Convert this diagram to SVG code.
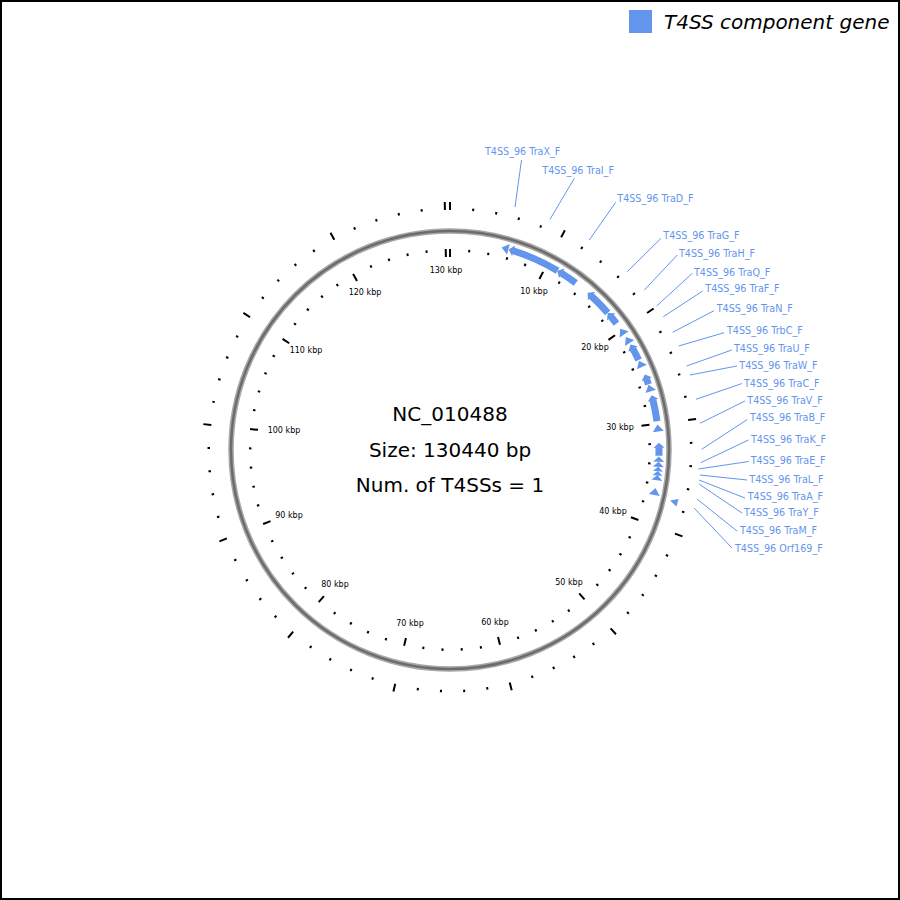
<svg xmlns="http://www.w3.org/2000/svg" xmlns:xlink="http://www.w3.org/1999/xlink" width="900" height="900" viewBox="0 0 900 900">
<style>
.tk{stroke:#000;stroke-width:2;fill:none}
.tl{font-family:"DejaVu Sans",sans-serif;font-size:8px;fill:#000;text-anchor:middle}
.gl{font-family:"DejaVu Sans",sans-serif;font-size:9.6px;fill:#6495ED}
.ld{stroke:#6495ED;stroke-width:1;fill:none}
.g{fill:#6495ED}
.b{fill:none;stroke:#6495ED;stroke-width:7}
.ct{font-family:"DejaVu Sans",sans-serif;font-size:20px;fill:#000;text-anchor:middle}
</style>
<defs>
<g id="M"><line class="tk" x1="450" y1="249" x2="450" y2="257"/><line class="tk" x1="450" y1="210" x2="450" y2="202"/></g>
<g id="N"><line class="tk" x1="450" y1="249" x2="450" y2="251.5"/><line class="tk" x1="450" y1="210" x2="450" y2="207.5"/></g>
<polygon id="h5" points="450,241 455.2,235.5 455.2,246.5"/>
<polygon id="h7" points="450,241 457,235.5 457,246.5"/>
<polygon id="h4" points="450,241 454.5,236 454.5,246"/>
</defs>
<rect x="1" y="1" width="898" height="898" fill="#fff" stroke="#000" stroke-width="2"/>
<g id="legend">
<rect x="629" y="10" width="23" height="23" fill="#6495ED"/>
<text x="664" y="29" style="font-family:'DejaVu Sans',sans-serif;font-size:20px;font-style:italic;fill:#000">T4SS component gene</text>
</g>
<g id="ring">
<circle cx="450" cy="450" r="219" fill="none" stroke="#a8a8a8" stroke-width="5.5"/>
<circle cx="450" cy="450" r="219" fill="none" stroke="#6c6c6c" stroke-width="2.5"/>
</g>
<g id="ticks">
<use href="#M"/>
<use href="#N" transform="rotate(5.520 450 450)"/>
<use href="#N" transform="rotate(11.040 450 450)"/>
<use href="#N" transform="rotate(16.559 450 450)"/>
<use href="#N" transform="rotate(22.079 450 450)"/>
<use href="#M" transform="rotate(27.599 450 450)"/>
<use href="#N" transform="rotate(33.119 450 450)"/>
<use href="#N" transform="rotate(38.638 450 450)"/>
<use href="#N" transform="rotate(44.158 450 450)"/>
<use href="#N" transform="rotate(49.678 450 450)"/>
<use href="#M" transform="rotate(55.198 450 450)"/>
<use href="#N" transform="rotate(60.718 450 450)"/>
<use href="#N" transform="rotate(66.238 450 450)"/>
<use href="#N" transform="rotate(71.757 450 450)"/>
<use href="#N" transform="rotate(77.277 450 450)"/>
<use href="#M" transform="rotate(82.797 450 450)"/>
<use href="#N" transform="rotate(88.316 450 450)"/>
<use href="#N" transform="rotate(93.836 450 450)"/>
<use href="#N" transform="rotate(99.356 450 450)"/>
<use href="#N" transform="rotate(104.876 450 450)"/>
<use href="#M" transform="rotate(110.396 450 450)"/>
<use href="#N" transform="rotate(115.915 450 450)"/>
<use href="#N" transform="rotate(121.435 450 450)"/>
<use href="#N" transform="rotate(126.955 450 450)"/>
<use href="#N" transform="rotate(132.475 450 450)"/>
<use href="#M" transform="rotate(137.994 450 450)"/>
<use href="#N" transform="rotate(143.514 450 450)"/>
<use href="#N" transform="rotate(149.034 450 450)"/>
<use href="#N" transform="rotate(154.554 450 450)"/>
<use href="#N" transform="rotate(160.074 450 450)"/>
<use href="#M" transform="rotate(165.593 450 450)"/>
<use href="#N" transform="rotate(171.113 450 450)"/>
<use href="#N" transform="rotate(176.633 450 450)"/>
<use href="#N" transform="rotate(182.153 450 450)"/>
<use href="#N" transform="rotate(187.672 450 450)"/>
<use href="#M" transform="rotate(193.192 450 450)"/>
<use href="#N" transform="rotate(198.712 450 450)"/>
<use href="#N" transform="rotate(204.232 450 450)"/>
<use href="#N" transform="rotate(209.752 450 450)"/>
<use href="#N" transform="rotate(215.271 450 450)"/>
<use href="#M" transform="rotate(220.791 450 450)"/>
<use href="#N" transform="rotate(226.311 450 450)"/>
<use href="#N" transform="rotate(231.831 450 450)"/>
<use href="#N" transform="rotate(237.350 450 450)"/>
<use href="#N" transform="rotate(242.870 450 450)"/>
<use href="#M" transform="rotate(248.390 450 450)"/>
<use href="#N" transform="rotate(253.910 450 450)"/>
<use href="#N" transform="rotate(259.429 450 450)"/>
<use href="#N" transform="rotate(264.949 450 450)"/>
<use href="#N" transform="rotate(270.469 450 450)"/>
<use href="#M" transform="rotate(275.989 450 450)"/>
<use href="#N" transform="rotate(281.509 450 450)"/>
<use href="#N" transform="rotate(287.028 450 450)"/>
<use href="#N" transform="rotate(292.548 450 450)"/>
<use href="#N" transform="rotate(298.068 450 450)"/>
<use href="#M" transform="rotate(303.588 450 450)"/>
<use href="#N" transform="rotate(309.107 450 450)"/>
<use href="#N" transform="rotate(314.627 450 450)"/>
<use href="#N" transform="rotate(320.147 450 450)"/>
<use href="#N" transform="rotate(325.667 450 450)"/>
<use href="#M" transform="rotate(331.187 450 450)"/>
<use href="#N" transform="rotate(336.706 450 450)"/>
<use href="#N" transform="rotate(342.226 450 450)"/>
<use href="#N" transform="rotate(347.746 450 450)"/>
<use href="#N" transform="rotate(353.266 450 450)"/>
<use href="#M" transform="rotate(358.785 450 450)"/>
</g>
<g id="tick-labels">
<text class="tl" x="534" y="294">10 kbp</text>
<text class="tl" x="595" y="350">20 kbp</text>
<text class="tl" x="620" y="430">30 kbp</text>
<text class="tl" x="613" y="514">40 kbp</text>
<text class="tl" x="569" y="585">50 kbp</text>
<text class="tl" x="495" y="625">60 kbp</text>
<text class="tl" x="410" y="626">70 kbp</text>
<text class="tl" x="335" y="587">80 kbp</text>
<text class="tl" x="289" y="518">90 kbp</text>
<text class="tl" x="284" y="433">100 kbp</text>
<text class="tl" x="306" y="353">110 kbp</text>
<text class="tl" x="365" y="295">120 kbp</text>
<text class="tl" x="446" y="273">130 kbp</text>
</g>
<g id="center-text">
<text class="ct" x="450" y="421">NC_010488</text>
<text class="ct" x="450" y="457">Size: 130440 bp</text>
<text class="ct" x="450" y="492">Num. of T4SSs = 1</text>
</g>
<g id="connectors">
<line class="ld" x1="515" y1="207" x2="521.5" y2="160"/>
<line class="ld" x1="550" y1="219.3" x2="574.3" y2="178.3"/>
<line class="ld" x1="589.3" y1="240" x2="615.7" y2="202.3"/>
<line class="ld" x1="627.3" y1="271.7" x2="661" y2="238.3"/>
<line class="ld" x1="644.3" y1="290" x2="677.3" y2="255"/>
<line class="ld" x1="656.7" y1="306" x2="692.3" y2="273.3"/>
<line class="ld" x1="663.3" y1="316.7" x2="702.7" y2="291"/>
<line class="ld" x1="672.7" y1="332.3" x2="714" y2="310.7"/>
<line class="ld" x1="678.7" y1="346" x2="724" y2="332.7"/>
<line class="ld" x1="686.7" y1="366" x2="731.7" y2="350"/>
<line class="ld" x1="690" y1="375" x2="737" y2="366"/>
<line class="ld" x1="696" y1="399.3" x2="742" y2="383.5"/>
<line class="ld" x1="700" y1="423.3" x2="745" y2="401"/>
<line class="ld" x1="701.7" y1="449.3" x2="747.3" y2="419.5"/>
<line class="ld" x1="700.7" y1="462.7" x2="748.5" y2="440"/>
<line class="ld" x1="698.3" y1="469" x2="748.7" y2="461.5"/>
<line class="ld" x1="700" y1="475" x2="747" y2="480"/>
<line class="ld" x1="699" y1="480" x2="745" y2="498"/>
<line class="ld" x1="699" y1="484" x2="742" y2="513"/>
<line class="ld" x1="697" y1="499" x2="737" y2="531"/>
<line class="ld" x1="694" y1="508" x2="732" y2="548"/>
</g>
<g id="TraX"><use class="g" href="#h7" transform="rotate(14.3 450 450)"/><text class="gl" x="485" y="155.2">T4SS_96 TraX_F</text></g>
<g id="TraI"><use class="g" href="#h5" transform="rotate(16.3 450 450)"/><circle class="b" cx="450" cy="450" r="209" stroke-dasharray="48.9 2000" transform="rotate(-72.4 450 450)"/><text class="gl" x="542.3" y="174.2">T4SS_96 TraI_F</text></g>
<g id="TraD"><circle class="b" cx="450" cy="450" r="209" stroke-dasharray="17.5 2000" transform="rotate(-57.8 450 450)"/><use class="g" href="#h5" transform="rotate(30.9 450 450)"/><text class="gl" x="617.3" y="202.2">T4SS_96 TraD_F</text></g>
<g id="TraG"><use class="g" href="#h5" transform="rotate(41.2 450 450)"/><circle class="b" cx="450" cy="450" r="209" stroke-dasharray="23.7 2000" transform="rotate(-47.5 450 450)"/><text class="gl" x="663.3" y="239.2">T4SS_96 TraG_F</text></g>
<g id="TraH"><use class="g" href="#h5" transform="rotate(49 450 450)"/><circle class="b" cx="450" cy="450" r="209" stroke-dasharray="9.1 2000" transform="rotate(-39.7 450 450)"/><text class="gl" x="679" y="256.5">T4SS_96 TraH_F</text></g>
<g id="TraQ"><use class="g" href="#h7" transform="rotate(54.5 450 450)"/><text class="gl" x="694" y="275.5">T4SS_96 TraQ_F</text></g>
<g id="TraF"><use class="g" href="#h7" transform="rotate(57.3 450 450)"/><text class="gl" x="705.3" y="292.2">T4SS_96 TraF_F</text></g>
<g id="TraN"><use class="g" href="#h5" transform="rotate(59.7 450 450)"/><circle class="b" cx="450" cy="450" r="209" stroke-dasharray="12.8 2000" transform="rotate(-29 450 450)"/><text class="gl" x="716.7" y="312.2">T4SS_96 TraN_F</text></g>
<g id="TrbC"><use class="g" href="#h7" transform="rotate(64.7 450 450)"/><text class="gl" x="727" y="333.8">T4SS_96 TrbC_F</text></g>
<g id="TraU"><use class="g" href="#h5" transform="rotate(68.8 450 450)"/><circle class="b" cx="450" cy="450" r="209" stroke-dasharray="5.8 2000" transform="rotate(-19.9 450 450)"/><text class="gl" x="734" y="352.2">T4SS_96 TraU_F</text></g>
<g id="TraW"><use class="g" href="#h7" transform="rotate(71.8 450 450)"/><text class="gl" x="739.3" y="368.8">T4SS_96 TraW_F</text></g>
<g id="TraC"><use class="g" href="#h5" transform="rotate(74.8 450 450)"/><circle class="b" cx="450" cy="450" r="209" stroke-dasharray="21.9 2000" transform="rotate(-13.9 450 450)"/><text class="gl" x="744" y="386.5">T4SS_96 TraC_F</text></g>
<g id="TraV"><use class="g" href="#h7" transform="rotate(83 450 450)"/><text class="gl" x="747.3" y="403.5">T4SS_96 TraV_F</text></g>
<g id="TraB"><use class="g" href="#h5" transform="rotate(88 450 450)"/><circle class="b" cx="450" cy="450" r="209" stroke-dasharray="8.4 2000" transform="rotate(-0.7 450 450)"/><text class="gl" x="750" y="420.8">T4SS_96 TraB_F</text></g>
<g id="TraK"><use class="g" href="#h5" transform="rotate(91.8 450 450)"/><text class="gl" x="751" y="442.8">T4SS_96 TraK_F</text></g>
<g id="TraE"><use class="g" href="#h5" transform="rotate(93.2 450 450)"/><text class="gl" x="750.7" y="464.2">T4SS_96 TraE_F</text></g>
<g id="TraL"><use class="g" href="#h4" transform="rotate(94.6 450 450)"/><text class="gl" x="749.3" y="482.8">T4SS_96 TraL_F</text></g>
<g id="TraA"><use class="g" href="#h4" transform="rotate(95.8 450 450)"/><text class="gl" x="747.7" y="500.2">T4SS_96 TraA_F</text></g>
<g id="TraY"><use class="g" href="#h5" transform="rotate(96.9 450 450)"/><text class="gl" x="744" y="516.2">T4SS_96 TraY_F</text></g>
<g id="TraM"><use class="g" href="#h7" transform="rotate(100.5 450 450)"/><text class="gl" x="740" y="534.2">T4SS_96 TraM_F</text></g>
<g id="Orf169"><polygon class="g" points="670,500.5 678.5,499 676.5,506.5"/><text class="gl" x="735" y="551.5">T4SS_96 Orf169_F</text></g>
</svg>
